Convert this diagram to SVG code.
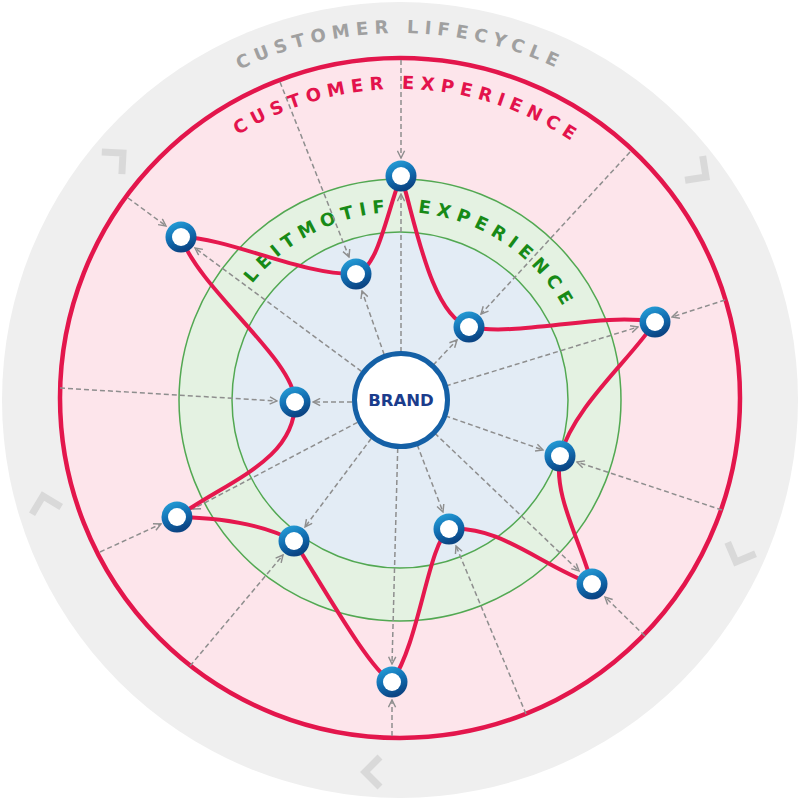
<svg xmlns="http://www.w3.org/2000/svg" width="800" height="800" viewBox="0 0 800 800">
  <defs>
    <style>
      .dash { fill: none; stroke: #8e8e8e; stroke-width: 1.5; stroke-dasharray: 5 3; marker-end: url(#ah); }
      .lbl { font-family: "DejaVu Sans", "Liberation Sans", sans-serif; font-weight: bold; font-size: 18px; letter-spacing: 6px; }
      .chev { fill: none; stroke: #d9d9d9; stroke-width: 7; stroke-linejoin: miter; }
      .ring { fill: url(#nodeGrad); }
      .hole { fill: #ffffff; }
    </style>
    <linearGradient id="nodeGrad" x1="0" y1="0" x2="0.4" y2="1">
      <stop offset="0" stop-color="#2aa8de"/>
      <stop offset="0.55" stop-color="#1270b4"/>
      <stop offset="1" stop-color="#0b4584"/>
    </linearGradient>
    <marker id="ah" viewBox="0 0 10 10" refX="9" refY="5" markerWidth="9" markerHeight="9" markerUnits="userSpaceOnUse" orient="auto">
      <path d="M1,1 L9,5 L1,9" fill="none" stroke="#8e8e8e" stroke-width="1.6"/>
    </marker>
    <path id="chevron" d="M-15,-15 L0,0 L-15,15"/>
    <path id="tpGray" d="M400,767 A367,367 0 1 1 400,33 A367,367 0 1 1 400,767"/>
    <path id="tpRed" d="M400,707 A309,309 0 1 1 400,89 A309,309 0 1 1 400,707"/>
    <path id="tpGreen" d="M400,588 A188,188 0 1 1 400,212 A188,188 0 1 1 400,588"/>
  </defs>

  <g id="background">
    <circle cx="400" cy="400" r="398" fill="#efefef"/>
    <circle cx="400" cy="398" r="340" fill="#fde5eb" stroke="#e3164c" stroke-width="4.5"/>
    <circle cx="400" cy="400" r="221" fill="#e4f2e2" stroke="#52a852" stroke-width="1.5"/>
    <circle cx="400" cy="400" r="168" fill="#e3ecf5" stroke="#52a852" stroke-width="1.5"/>
  </g>

  <g id="chevrons">
    <use href="#chevron" class="chev" transform="translate(123,153) rotate(-42)"/>
    <use href="#chevron" class="chev" transform="translate(706,177) rotate(36)"/>
    <use href="#chevron" class="chev" transform="translate(736,562) rotate(112)"/>
    <use href="#chevron" class="chev" transform="translate(365,772) rotate(180)"/>
    <use href="#chevron" class="chev" transform="translate(43,496) rotate(-104)"/>
  </g>

  <g id="labels">
    <text class="lbl" fill="#a0a0a0"><textPath href="#tpGray" startOffset="42.8%">CUSTOMER LIFECYCLE</textPath></text>
    <text class="lbl" fill="#e3134c"><textPath href="#tpRed" startOffset="41.2%">CUSTOMER EXPERIENCE</textPath></text>
    <text class="lbl" fill="#178a17"><textPath href="#tpGreen" startOffset="35.6%">LEITMOTIF</textPath></text>
    <text class="lbl" fill="#178a17"><textPath href="#tpGreen" startOffset="51.5%">EXPERIENCE</textPath></text>
  </g>

  <g id="connectors">
    <!-- brand to nodes -->
    <line class="dash" x1="401" y1="400" x2="401" y2="194"/>
    <line class="dash" x1="400" y1="400" x2="362" y2="291"/>
    <line class="dash" x1="400" y1="400" x2="195" y2="248"/>
    <line class="dash" x1="400" y1="400" x2="457" y2="340"/>
    <line class="dash" x1="400" y1="400" x2="638" y2="327"/>
    <line class="dash" x1="400" y1="402" x2="313" y2="402"/>
    <line class="dash" x1="400" y1="400" x2="543" y2="450"/>
    <line class="dash" x1="400" y1="400" x2="193" y2="509"/>
    <line class="dash" x1="400" y1="400" x2="305" y2="527"/>
    <line class="dash" x1="400" y1="400" x2="443" y2="512"/>
    <line class="dash" x1="400" y1="400" x2="579" y2="571"/>
    <line class="dash" x1="399" y1="400" x2="392" y2="664"/>
    <!-- red circle to nodes -->
    <line class="dash" x1="401" y1="60" x2="401" y2="158"/>
    <line class="dash" x1="280" y1="82" x2="349" y2="257"/>
    <line class="dash" x1="128" y1="198" x2="166" y2="226"/>
    <line class="dash" x1="630" y1="152" x2="481" y2="314"/>
    <line class="dash" x1="725" y1="300" x2="672" y2="317"/>
    <line class="dash" x1="60" y1="388" x2="277" y2="401"/>
    <line class="dash" x1="722" y1="510" x2="577" y2="462"/>
    <line class="dash" x1="100" y1="552" x2="161" y2="524"/>
    <line class="dash" x1="190" y1="666" x2="283" y2="555"/>
    <line class="dash" x1="526" y1="714" x2="456" y2="546"/>
    <line class="dash" x1="645" y1="636" x2="605" y2="597"/>
    <line class="dash" x1="392" y1="736" x2="392" y2="700"/>
    <!-- journey curve -->
    <path id="journey" fill="none" stroke="#e5184e" stroke-width="4" stroke-linecap="round" stroke-linejoin="round"
      d="M356,274 C378,268 386,215 401,176 C414,215 430,315 469,327 C520,337 600,312 655,322 C630,360 575,405 560,456 C553,495 580,540 592,584 C540,565 500,525 449,529 C428,545 420,640 392,682 C370,670 325,590 294,541 C265,525 225,518 177,517 C230,480 295,460 295,402 C295,360 200,290 181,237 C230,238 300,275 356,274 Z"/>
  </g>

  <g id="brand">
    <circle cx="401" cy="400" r="46.5" fill="#ffffff" stroke="#1460a6" stroke-width="5"/>
    <text x="401" y="406" text-anchor="middle" font-family="DejaVu Sans, Liberation Sans, sans-serif" font-weight="bold" font-size="16.5" fill="#1b3c8c">BRAND</text>
  </g>

  <g id="node1"><circle class="ring" cx="401" cy="176" r="15.5"/><circle class="hole" cx="401" cy="176" r="9"/></g>
  <g id="node2"><circle class="ring" cx="356" cy="274" r="15.5"/><circle class="hole" cx="356" cy="274" r="9"/></g>
  <g id="node3"><circle class="ring" cx="181" cy="237" r="15.5"/><circle class="hole" cx="181" cy="237" r="9"/></g>
  <g id="node4"><circle class="ring" cx="469" cy="327" r="15.5"/><circle class="hole" cx="469" cy="327" r="9"/></g>
  <g id="node5"><circle class="ring" cx="655" cy="322" r="15.5"/><circle class="hole" cx="655" cy="322" r="9"/></g>
  <g id="node6"><circle class="ring" cx="295" cy="402" r="15.5"/><circle class="hole" cx="295" cy="402" r="9"/></g>
  <g id="node7"><circle class="ring" cx="560" cy="456" r="15.5"/><circle class="hole" cx="560" cy="456" r="9"/></g>
  <g id="node8"><circle class="ring" cx="177" cy="517" r="15.5"/><circle class="hole" cx="177" cy="517" r="9"/></g>
  <g id="node9"><circle class="ring" cx="294" cy="541" r="15.5"/><circle class="hole" cx="294" cy="541" r="9"/></g>
  <g id="node10"><circle class="ring" cx="449" cy="529" r="15.5"/><circle class="hole" cx="449" cy="529" r="9"/></g>
  <g id="node11"><circle class="ring" cx="592" cy="584" r="15.5"/><circle class="hole" cx="592" cy="584" r="9"/></g>
  <g id="node12"><circle class="ring" cx="392" cy="682" r="15.5"/><circle class="hole" cx="392" cy="682" r="9"/></g>
</svg>
